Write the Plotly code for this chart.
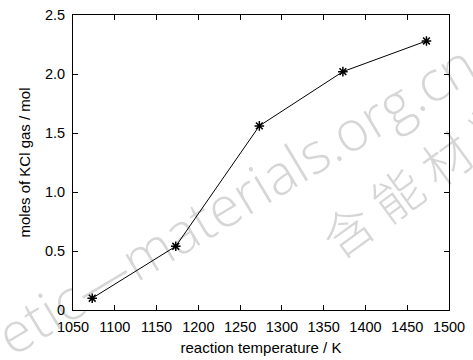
import plotly.graph_objects as go

temperature_K = [1073, 1173, 1273, 1373, 1473]
kcl_moles = [0.10, 0.54, 1.56, 2.02, 2.28]

x_ticks = [1050, 1100, 1150, 1200, 1250, 1300, 1350, 1400, 1450, 1500]
y_ticks = [0, 0.5, 1.0, 1.5, 2.0, 2.5]
y_tick_labels = ["0", "0.5", "1.0", "1.5", "2.0", "2.5"]

FONT = "Liberation Sans, Arial, sans-serif"

fig = go.Figure()

fig.add_trace(go.Scatter(
    x=temperature_K, y=kcl_moles,
    mode="lines+markers",
    line=dict(color="black", width=1),
    marker=dict(symbol="asterisk-open", size=8, line=dict(color="black", width=1.5)),
    showlegend=False,
))

L, R, T, B = 73, 24, 15, 50
W, H = 473, 360
pw = W - L - R
ph = H - T - B

def px(xp):
    return (xp - L) / pw

def py(yp):
    return (H - B - yp) / ph

wm_color = "rgba(0,0,0,0.16)"
fig.add_annotation(text="etic\u2014materials.org.cn", xref="paper", yref="paper",
                   x=px(235), y=py(198), xanchor="center", yanchor="middle",
                   showarrow=False, textangle=-31,
                   font=dict(family="Open Sans, Liberation Sans, sans-serif", size=56,
                             weight=300, color=wm_color))
fig.add_annotation(text="含 能 材 料", xref="paper", yref="paper",
                   x=px(420), y=py(175), xanchor="center", yanchor="middle",
                   showarrow=False, textangle=-36,
                   font=dict(family="Noto Sans CJK SC", size=50, weight=200, color=wm_color))

axis_common = dict(
    showline=True, linecolor="black", linewidth=1, mirror="ticks",
    ticks="inside", ticklen=5, tickcolor="black", tickwidth=1,
    showgrid=False, zeroline=False, automargin=False,
    tickfont=dict(family=FONT, size=14.5, color="black"),
)

fig.update_xaxes(range=[1050, 1500], tickvals=x_ticks, ticklabelstandoff=4,
                 title=dict(text="reaction temperature / K", standoff=8,
                            font=dict(family=FONT, size=15, color="black")),
                 **axis_common)
fig.update_yaxes(range=[0, 2.5], tickvals=y_ticks, ticktext=y_tick_labels, ticklabelstandoff=4,
                 title=dict(text="moles of KCl gas / mol", standoff=10,
                            font=dict(family=FONT, size=15, color="black")),
                 **axis_common)

fig.update_layout(
    width=W, height=H,
    margin=dict(l=L, r=R, t=T, b=B, autoexpand=False),
    paper_bgcolor="white", plot_bgcolor="white",
)

fig.write_html("out.html")
